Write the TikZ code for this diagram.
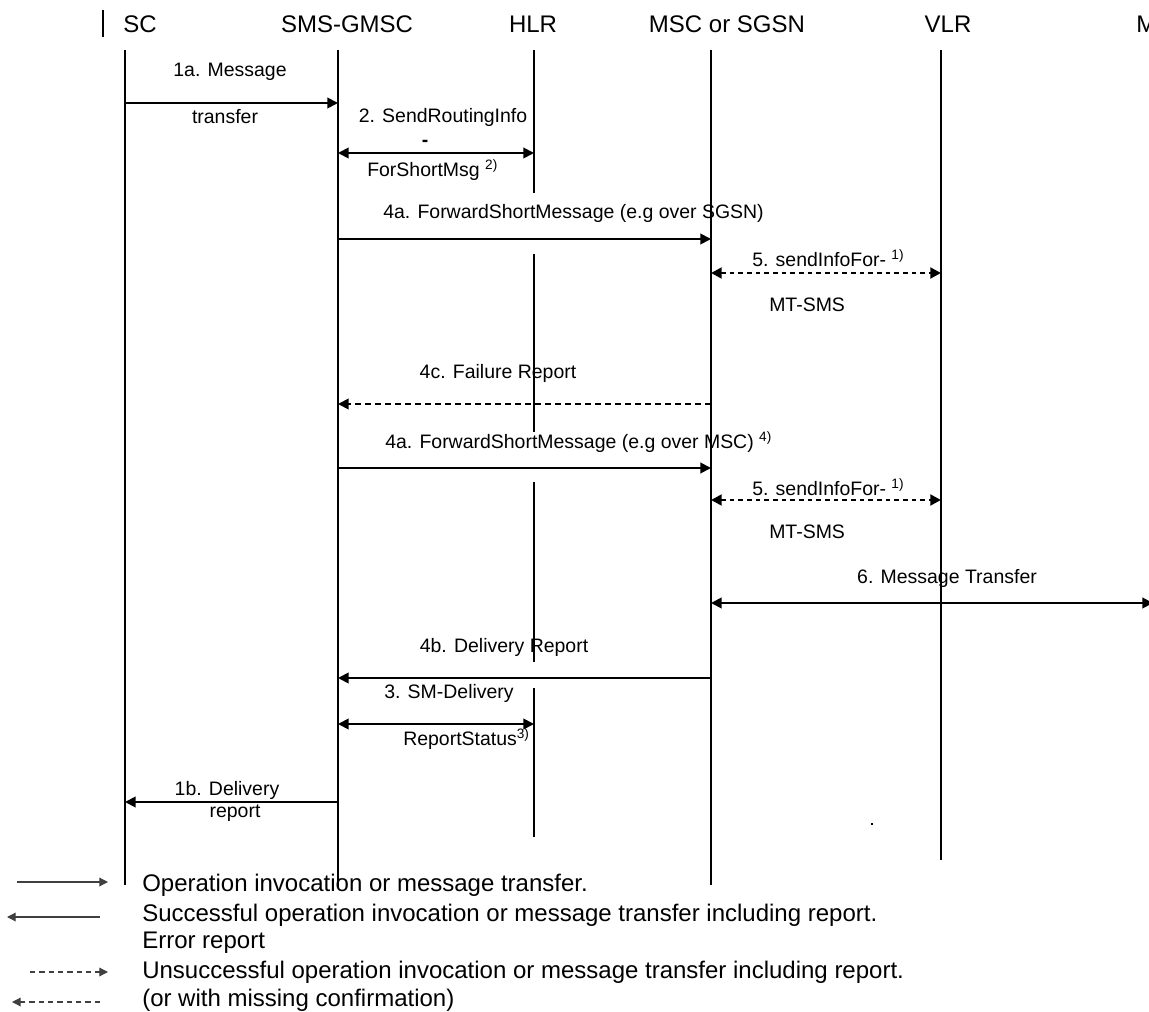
\documentclass[tikz,border=0pt]{standalone}
\usepackage{fontspec}
\setmainfont{Liberation Sans}
\usetikzlibrary{arrows.meta}

\begin{document}
\begin{tikzpicture}[x=0.75pt, y=-0.75pt, >={Triangle[length=8pt,width=8pt]},
    every node/.style={inner sep=0pt, font=\fontsize{14.6}{17}\selectfont},
    head/.style={font=\fontsize{18}{21}\selectfont},
    life/.style={line width=1.7pt},
    msg/.style={line width=1.4pt},
    fail/.style={line width=1.4pt, dash pattern=on 4.5pt off 3pt},
    info/.style={line width=2pt, dash pattern=on 3.5pt off 3pt},
    key/.style={draw=black!75, line width=0.9pt, >={Triangle[length=6.5pt,width=6.5pt]}},
    keyfail/.style={key, dash pattern=on 4pt off 3pt},
    keytext/.style={anchor=west, font=\fontsize{18}{20}\selectfont}]
\clip (0,0) rectangle (1149,1012);

% entities
\node[head] (hsc) at (140,24) {SC};
\node[head] (hgmsc) at (347,24) {SMS-GMSC};
\node[head] (hhlr) at (533,24) {HLR};
\node[head] (hmsc) at (727,24) {MSC or SGSN};
\node[head] (hvlr) at (948,24) {VLR};
\node[head, anchor=west] (hms) at (1136,24) {M};
\draw[line width=2.2pt] (103,10) -- (103,37);

\coordinate (sc) at (125,50);
\coordinate (gmsc) at (338,50);
\coordinate (hlr) at (534,50);
\coordinate (msc) at (711,50);
\coordinate (vlr) at (941,50);
\coordinate (ms) at (1153,50);

\draw[life] (sc) -- ++(0,835);
\draw[life] (gmsc) -- ++(0,837);
\draw[life] (msc) -- ++(0,835);
\draw[life] (vlr) -- ++(0,810);
\foreach \a/\b in {50/193, 254/432, 482/662, 688/837}
    \draw[life] (hlr |- 0,\a) -- (hlr |- 0,\b);

% message rows
\foreach \n/\y in {m1a/103, m2/153, m4a/239, m5/273, m4c/404, m4d/468,
    m5b/500, m6/603, m4b/678, m3/724, m1b/802}
    \coordinate (\n) at (0,\y);

\draw[msg, ->] (sc |- m1a) -- (gmsc |- m1a);
\node (l1a) at (230,72) {1a. Message};
\node (l1a2) at (225,117) {transfer};

\draw[msg, <->] (gmsc |- m2) -- (hlr |- m2);
\node (l2) at (443,117) {2. SendRoutingInfo};
\node (l2d) at (425,143) {\textbf{-}};
\node[anchor=west] (l22) at (367,170) {ForShortMsg \textsuperscript{2)}};

\draw[msg, ->] (gmsc |- m4a) -- (msc |- m4a);
\node[anchor=west] (l4a) at (383,213) {4a. ForwardShortMessage (e.g over SGSN)};

\draw[info, <->] (msc |- m5) -- (vlr |- m5);
\node[anchor=west] (l5) at (752,258) {5. sendInfoFor- \textsuperscript{1)}};
\node[anchor=west] (l52) at (769,305) {MT-SMS};

\draw[fail, ->] (msc |- m4c) -- (gmsc |- m4c);
\node (l4c) at (498,373) {4c. Failure Report};

\draw[msg, ->] (gmsc |- m4d) -- (msc |- m4d);
\node[anchor=west] (l4d) at (385,442) {4a. ForwardShortMessage (e.g over MSC) \textsuperscript{4)}};

\draw[info, <->] (msc |- m5b) -- (vlr |- m5b);
\node[anchor=west] (l5b) at (752,487) {5. sendInfoFor- \textsuperscript{1)}};
\node[anchor=west] (l5b2) at (769,532) {MT-SMS};

\draw[msg, <->] (msc |- m6) -- (ms |- m6);
\node (l6) at (947,578) {6. Message Transfer};

\draw[msg, ->] (msc |- m4b) -- (gmsc |- m4b);
\node (l4b) at (504,647) {4b. Delivery Report};

\draw[msg, <->] (gmsc |- m3) -- (hlr |- m3);
\node (l3) at (449,693) {3. SM-Delivery};
\node[anchor=west] (l32) at (403,739) {ReportStatus\textsuperscript{3)}};

\draw[msg, ->] (gmsc |- m1b) -- (sc |- m1b);
\node (l1b) at (227,790) {1b. Delivery};
\node (l1b2) at (235,813) {report};

\fill (871,823) rectangle (873,825);

% legend
\coordinate (k1a) at (17,882);  \coordinate (k1b) at (108,882);
\coordinate (k2a) at (100,917); \coordinate (k2b) at (7,917);
\coordinate (k3a) at (30,972);  \coordinate (k3b) at (108,972);
\coordinate (k4a) at (100,1002); \coordinate (k4b) at (12,1002);
\draw[key, ->] (k1a) -- (k1b);
\draw[key, ->] (k2a) -- (k2b);
\draw[keyfail, ->] (k3a) -- (k3b);
\draw[keyfail, ->] (k4a) -- (k4b);
\node[keytext] (t1) at (142,885) {Operation invocation or message transfer.};
\node[keytext] (t2) at (142,915) {Successful operation invocation or message transfer including report.};
\node[keytext] (t3) at (142,943) {Error report};
\node[keytext] (t4) at (142,972) {Unsuccessful operation invocation or message transfer including report.};
\node[keytext] (t5) at (142,1000) {(or with missing confirmation)};
\end{tikzpicture}
\end{document}
